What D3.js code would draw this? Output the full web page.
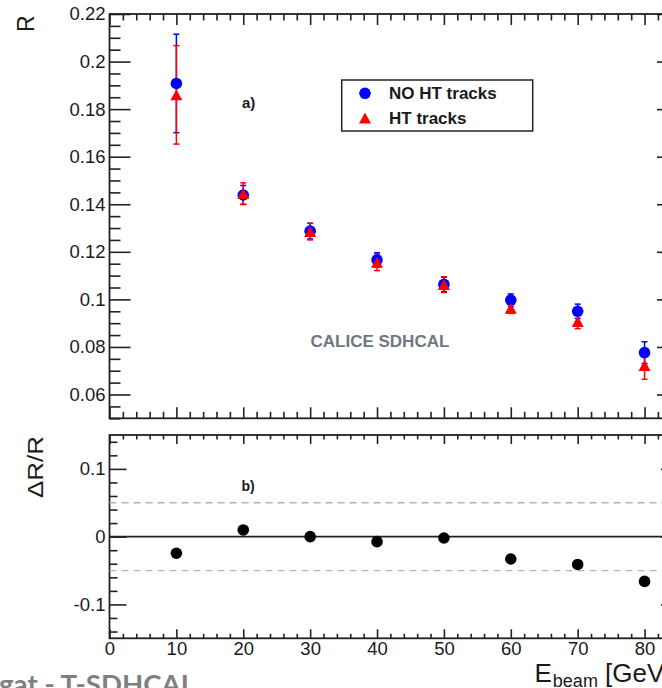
<!DOCTYPE html>
<html><head><meta charset="utf-8">
<script src="https://cdn.jsdelivr.net/npm/d3@7"></script>
<style>html,body{margin:0;padding:0;background:#fff;overflow:hidden}</style>
</head><body><svg id="c" width="662" height="688"></svg>
<script>
// ---- data ----
const energies   = [10, 20, 30, 40, 50, 60, 70, 80];
const rNoHT      = [0.1908, 0.1439, 0.1287, 0.1166, 0.1063, 0.0997, 0.0950, 0.0776];
const rNoHTErr   = [0.0207, 0.0040, 0.0033, 0.0030, 0.0030, 0.0026, 0.0030, 0.0046];
const rHT        = [0.1860, 0.1445, 0.1285, 0.1156, 0.1062, 0.0962, 0.0907, 0.0722];
const rHTErr     = [0.0207, 0.0045, 0.0035, 0.0035, 0.0033, 0.0021, 0.0030, 0.0058];
const dRoverR    = [-0.0245, 0.0099, 0.0000, -0.0074, -0.0020, -0.0330, -0.0410, -0.0660];

const xTickValues = [0, 10, 20, 30, 40, 50, 60, 70, 80];
const xTickLabels = ["0", "10", "20", "30", "40", "50", "60", "70", "80"];
const yTopTickValues = [0.06, 0.08, 0.10, 0.12, 0.14, 0.16, 0.18, 0.20, 0.22];
const yTopTickLabels = ["0.06", "0.08", "0.1", "0.12", "0.14", "0.16", "0.18", "0.2", "0.22"];
const yBotTickValues = [-0.1, 0, 0.1];
const yBotTickLabels = ["-0.1", "0", "0.1"];
const bandLines = [-0.05, 0.05];
const legendLabels = ["NO HT tracks", "HT tracks"];

// ---- layout ----
const svg = d3.select("#c");
const FONT = "'Liberation Sans', Arial, Helvetica, sans-serif";
const INK = "#222";

const x = d3.scaleLinear().domain([0, 85]).range([109.5, 678]);
const yTop = d3.scaleLinear().domain([0.05, 0.22]).range([418.3, 14]);
const yBot = d3.scaleLinear().domain([-0.15, 0.15]).range([638.3, 435]);

const xMinor = d3.range(0, 85, 2).filter(v => v % 10 !== 0);
const yTopMinor = d3.range(0.05, 0.2201, 0.005).map(v => +v.toFixed(3)).filter(v => Math.round(v * 1000) % 20 !== 0);
const yBotMinor = d3.range(-0.14, 0.1401, 0.02).map(v => +v.toFixed(2)).filter(v => Math.abs(v) > 1e-9 && Math.abs(Math.abs(v) - 0.1) > 1e-9);

function styleAxis(g, fontSize) {
  g.select(".domain").remove();
  g.selectAll(".tick line").attr("stroke", INK).attr("stroke-width", 1.6);
  g.attr("font-family", FONT).attr("font-size", fontSize);
  g.selectAll(".tick text").attr("fill", "#1a1a1a");
}
function addAxis(axis, tx, ty, fontSize) {
  const g = svg.append("g").attr("transform", `translate(${tx},${ty})`).call(axis);
  styleAxis(g, fontSize || 18);
  return g;
}
const noLabel = () => "";

// ===== top panel =====
svg.append("rect").attr("x", x(0)).attr("y", yTop(0.22)).attr("width", x(85) - x(0)).attr("height", yTop(0.05) - yTop(0.22))
  .attr("fill", "none").attr("stroke", INK).attr("stroke-width", 1.8);
addAxis(d3.axisBottom(x).tickValues(xTickValues).tickSize(-11).tickFormat(noLabel), 0, yTop(0.05));
addAxis(d3.axisBottom(x).tickValues(xMinor).tickSize(-6.5).tickFormat(noLabel), 0, yTop(0.05));
addAxis(d3.axisTop(x).tickValues(xTickValues).tickSize(-11).tickFormat(noLabel), 0, yTop(0.22));
addAxis(d3.axisTop(x).tickValues(xMinor).tickSize(-6.5).tickFormat(noLabel), 0, yTop(0.22));
addAxis(d3.axisLeft(yTop).tickValues(yTopTickValues).tickSize(-21).tickPadding(4)
  .tickFormat((d, i) => yTopTickLabels[i]), x(0), 0, 18.5);
addAxis(d3.axisLeft(yTop).tickValues(yTopMinor).tickSize(-11).tickFormat(noLabel), x(0), 0);
addAxis(d3.axisRight(yTop).tickValues(yTopTickValues).tickSize(-21).tickFormat(noLabel), x(85), 0);
addAxis(d3.axisRight(yTop).tickValues(yTopMinor).tickSize(-11).tickFormat(noLabel), x(85), 0);

svg.append("text").attr("transform", `translate(33.5,32) rotate(-90)`)
  .attr("font-family", FONT).attr("font-size", 23).attr("fill", "#1a1a1a").text("R");

function errorBars(vals, errs, color) {
  const g = svg.append("g").attr("stroke", color).attr("stroke-width", 1.5);
  energies.forEach((e, i) => {
    const cx = x(e), y1 = yTop(vals[i] - errs[i]), y2 = yTop(vals[i] + errs[i]);
    g.append("line").attr("x1", cx).attr("x2", cx).attr("y1", y1).attr("y2", y2);
    g.append("line").attr("x1", cx - 3).attr("x2", cx + 3).attr("y1", y1).attr("y2", y1);
    g.append("line").attr("x1", cx - 3).attr("x2", cx + 3).attr("y1", y2).attr("y2", y2);
  });
}
const triUp = {
  draw(ctx, size) {
    const r = Math.sqrt(size) / 2;
    ctx.moveTo(0, -r * 0.9);
    ctx.lineTo(r, r * 0.9);
    ctx.lineTo(-r, r * 0.9);
    ctx.closePath();
  }
};
errorBars(rNoHT, rNoHTErr, "#0000ff");
errorBars(rHT, rHTErr, "#ff0000");
svg.append("g").selectAll("circle").data(energies).join("circle")
  .attr("cx", d => x(d)).attr("cy", (d, i) => yTop(rNoHT[i])).attr("r", 5.8).attr("fill", "#0000ff");
svg.append("g").selectAll("path").data(energies).join("path")
  .attr("d", d3.symbol().type(triUp).size(144))
  .attr("transform", (d, i) => `translate(${x(d)},${yTop(rHT[i])})`).attr("fill", "#ff0000");

// legend
const lg = svg.append("g");
lg.append("rect").attr("x", 341.7).attr("y", 80).attr("width", 191).attr("height", 51)
  .attr("fill", "#fff").attr("stroke", INK).attr("stroke-width", 1.5);
lg.append("circle").attr("cx", 365).attr("cy", 93.3).attr("r", 5.8).attr("fill", "#0000ff");
lg.append("path").attr("d", d3.symbol().type(triUp).size(144)).attr("transform", "translate(365,118)").attr("fill", "#ff0000");
lg.selectAll("text").data(legendLabels).join("text")
  .attr("x", 389).attr("y", (d, i) => i === 0 ? 99.3 : 124.3)
  .attr("font-family", FONT).attr("font-weight", "bold").attr("font-size", 17).attr("fill", "#1a1a1a").text(d => d);

svg.append("text").attr("x", 242).attr("y", 108).attr("font-family", FONT).attr("font-weight", "bold")
  .attr("font-size", 15).attr("fill", "#1a1a1a").text("a)");
svg.append("text").attr("x", 310.5).attr("y", 346.7).attr("font-family", FONT).attr("font-weight", "bold")
  .attr("font-size", 17).attr("fill", "#6f7780").text("CALICE SDHCAL");

// ===== bottom panel =====
svg.append("rect").attr("x", x(0)).attr("y", yBot(0.15)).attr("width", x(85) - x(0)).attr("height", yBot(-0.15) - yBot(0.15))
  .attr("fill", "none").attr("stroke", INK).attr("stroke-width", 1.8);
svg.append("g").selectAll("line").data(bandLines).join("line")
  .attr("x1", x(0)).attr("x2", x(85)).attr("y1", d => yBot(d)).attr("y2", d => yBot(d))
  .attr("stroke", "#b4b4b4").attr("stroke-width", 1.3).attr("stroke-dasharray", "7,5");
svg.append("line").attr("x1", x(0)).attr("x2", x(85)).attr("y1", yBot(0)).attr("y2", yBot(0))
  .attr("stroke", INK).attr("stroke-width", 1.8);

addAxis(d3.axisBottom(x).tickValues(xTickValues).tickSize(-9).tickPadding(4)
  .tickFormat((d, i) => xTickLabels[i]), 0, yBot(-0.15), 18.5);
addAxis(d3.axisBottom(x).tickValues(xMinor).tickSize(-4.5).tickFormat(noLabel), 0, yBot(-0.15));
addAxis(d3.axisTop(x).tickValues(xTickValues).tickSize(-9).tickFormat(noLabel), 0, yBot(0.15));
addAxis(d3.axisTop(x).tickValues(xMinor).tickSize(-4.5).tickFormat(noLabel), 0, yBot(0.15));
addAxis(d3.axisLeft(yBot).tickValues(yBotTickValues).tickSize(-17).tickPadding(4)
  .tickFormat((d, i) => yBotTickLabels[i]), x(0), 0, 18.5);
addAxis(d3.axisLeft(yBot).tickValues(yBotMinor).tickSize(-8).tickFormat(noLabel), x(0), 0);
addAxis(d3.axisRight(yBot).tickValues(yBotTickValues).tickSize(-17).tickFormat(noLabel), x(85), 0);
addAxis(d3.axisRight(yBot).tickValues(yBotMinor).tickSize(-8).tickFormat(noLabel), x(85), 0);

svg.append("g").selectAll("circle").data(energies).join("circle")
  .attr("cx", d => x(d)).attr("cy", (d, i) => yBot(dRoverR[i])).attr("r", 5.8).attr("fill", "#000");

svg.append("text").attr("transform", `translate(43,498) rotate(-90)`)
  .attr("font-family", FONT).attr("font-size", 22).attr("fill", "#1a1a1a")
  .attr("textLength", 62).attr("lengthAdjust", "spacingAndGlyphs").text("ΔR/R");
svg.append("text").attr("x", 241.5).attr("y", 491).attr("font-family", FONT).attr("font-weight", "bold")
  .attr("font-size", 14).attr("fill", "#1a1a1a").text("b)");

const xt = svg.append("text").attr("x", 534.5).attr("y", 681.7).attr("font-family", FONT).attr("font-size", 26).attr("fill", "#1a1a1a");
xt.append("tspan").text("E");
xt.append("tspan").attr("font-size", 18).attr("dy", 5.5).attr("dx", 1).text("beam");
xt.append("tspan").attr("dy", -5.5).text(" [GeV]");

svg.append("text").attr("x", -1).attr("y", 694).attr("font-family", "Lato, 'Open Sans', sans-serif")
  .attr("font-weight", "bold").attr("font-size", 27).attr("fill", "#808080")
  .attr("textLength", 196).attr("lengthAdjust", "spacingAndGlyphs").text("gat - T-SDHCAL");
</script></body></html>
